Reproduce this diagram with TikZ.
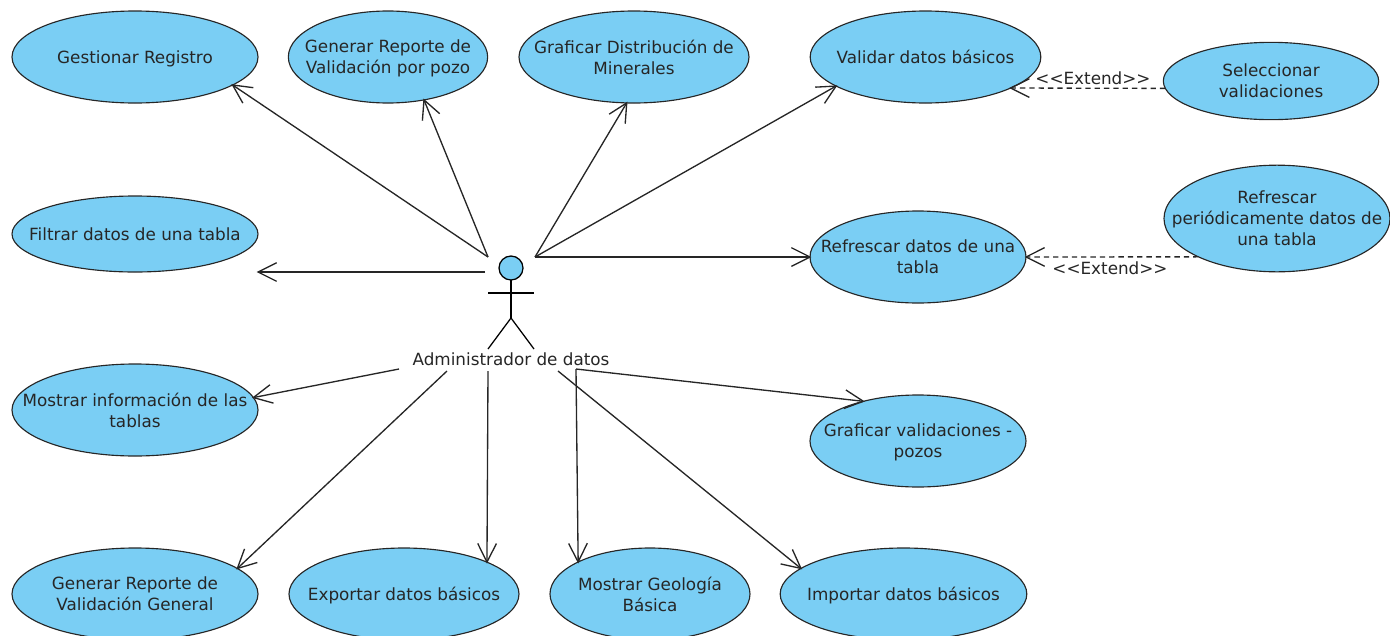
\documentclass[tikz,border=0pt]{standalone}
\usepackage{fontspec}
\setmainfont{DejaVu Sans}
\usetikzlibrary{shapes.geometric}
\usetikzlibrary{arrows.meta}
\definecolor{casefill}{HTML}{7ACEF4}
\definecolor{lineink}{HTML}{262626}
\pgfdeclarearrow{
    name=OpenTip,
    setup code={\pgfarrowssettipend{0pt}\pgfarrowssetlineend{-0.4pt}\pgfarrowssetbackend{-14pt}\pgfarrowssetvisualbackend{-14pt}},
    drawing code={\pgfsetdash{}{0pt}\pgfpathmoveto{\pgfqpoint{-14pt}{7pt}}\pgfpathlineto{\pgfqpoint{0pt}{0pt}}\pgfpathlineto{\pgfqpoint{-14pt}{-7pt}}\pgfusepathqstroke},
}
\tikzset{
    usecase/.style={ellipse,draw=lineink,fill=casefill,line width=0.85pt,inner sep=-40pt,outer sep=0pt,align=center,text=black!85,text depth=0pt,execute at begin node={\rule{0pt}{13pt}}},
    usecaseone/.style={usecase,text depth=2.7pt},
    assoc/.style={draw=lineink,line width=1pt,-{OpenTip}},
    extendline/.style={assoc,dash pattern=on 4pt off 3pt},
    stick/.style={draw=black,line width=0.95pt},
}
\begin{document}
\begin{tikzpicture}[x=0.75pt,y=-0.75pt,font=\fontsize{12.6}{15.8}\selectfont]
    \useasboundingbox (0,0) rectangle (1390,636);
    % top row
    \node[usecaseone,minimum width=184.5pt,minimum height=69pt] (gestionar) at (135,57) {Gestionar Registro};
    \node[usecase,minimum width=149.5pt,minimum height=69pt] (reportepozo) at (388,57) {Generar Reporte de\\Validación por pozo};
    \node[usecase,minimum width=172.5pt,minimum height=69pt] (distribucion) at (634,57) {Graficar Distribución de\\Minerales};
    \node[usecaseone,minimum width=173pt,minimum height=69pt] (validar) at (925.5,57) {Validar datos básicos};
    \node[usecase,minimum width=161.5pt,minimum height=58pt] (seleccionar) at (1271,81) {Seleccionar\\validaciones};
    % middle
    \node[usecaseone,minimum width=184.5pt,minimum height=57pt] (filtrar) at (135,234) {Filtrar datos de una tabla};
    \node[usecase,minimum width=162pt,minimum height=69pt] (refrescar) at (918,257) {Refrescar datos de una\\tabla};
    \node[usecase,minimum width=169.5pt,minimum height=80pt] (periodico) at (1277,218.5) {Refrescar\\periódicamente datos de\\una tabla};
    \node[usecase,minimum width=184.5pt,minimum height=69pt] (mostrarinfo) at (135,410) {Mostrar información de las\\tablas};
    \node[usecase,minimum width=162pt,minimum height=69pt] (graficarval) at (918,441) {Graficar validaciones -\\pozos};
    % bottom row
    \node[usecase,minimum width=184.5pt,minimum height=69pt] (reportegeneral) at (135,594) {Generar Reporte de\\Validación General};
    \node[usecaseone,minimum width=172.5pt,minimum height=69pt] (exportar) at (404,594) {Exportar datos básicos};
    \node[usecase,minimum width=150pt,minimum height=69pt] (geologia) at (650,594) {Mostrar Geología\\Básica};
    \node[usecaseone,minimum width=185pt,minimum height=69pt] (importar) at (903.5,594) {Importar datos básicos};
    % actor
    \node[circle,draw=black,fill=casefill,line width=0.95pt,minimum size=18pt,inner sep=0pt,outer sep=0pt] (cabeza) at (511,268) {};
    \coordinate (cadera) at (511,318);
    \coordinate (brazoi) at (488,293);
    \coordinate (brazod) at (534,293);
    \coordinate (piei) at (488,349);
    \coordinate (pied) at (534,349);
    \draw[stick] (cabeza.south) -- (cadera);
    \draw[stick] (brazoi) -- (brazod);
    \draw[stick] (piei) -- (cadera) -- (pied);
    \node[text=black!85] (admin) at (511,359) {Administrador de datos};
    % free ends near the actor
    \coordinate (ai) at (488,257);
    \coordinate (ad) at (535,257);
    \coordinate (ao) at (485,272);
    \coordinate (filtrartip) at (258,272);
    \coordinate (am) at (399,369);
    \coordinate (ag) at (447,371);
    \coordinate (ae) at (488,371);
    \coordinate (al) at (576,369);
    \coordinate (ap) at (558,371);
    % associations
    \draw[assoc] (ai) -- (gestionar.-16);
    \draw[assoc] (ai) -- (reportepozo.-50);
    \draw[assoc] (ad) -- (distribucion.-99);
    \draw[assoc] (ad) -- (validar.-162);
    \draw[assoc] (ad) -- (refrescar.west);
    \draw[assoc] (ao) -- (filtrartip);
    \draw[assoc] (am) -- (mostrarinfo.6);
    \draw[assoc] (ag) -- (reportegeneral.14);
    \draw[assoc] (ae) -- (exportar.21);
    \draw[assoc] (al) -- (geologia.156);
    \draw[assoc] (ap) -- (importar.166);
    \draw[assoc] (al) -- (graficarval.144);
    % extends
    \draw[extendline] (seleccionar.184) -- (validar.-20);
    \draw[extendline] (periodico.206) -- (refrescar.east);
    \node[text=black!85] (extenduno) at (1093,78) {{<}{<}Extend{>}{>}};
    \node[text=black!85] (extenddos) at (1110,268) {{<}{<}Extend{>}{>}};
\end{tikzpicture}
\end{document}
